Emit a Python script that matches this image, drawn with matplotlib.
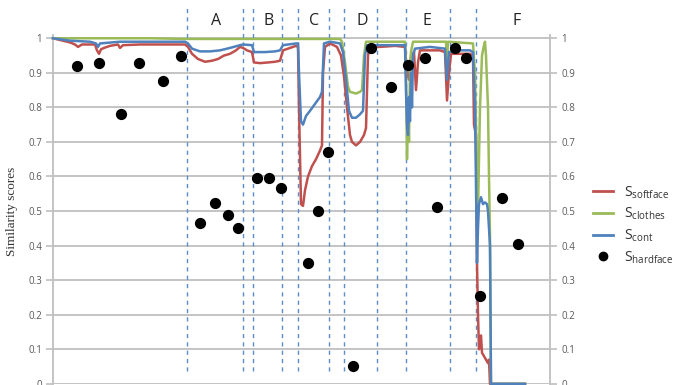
import matplotlib
matplotlib.use('Agg')
import matplotlib.pyplot as plt
from matplotlib.lines import Line2D

plt.rcParams['font.family'] = ['Open Sans', 'DejaVu Sans']

# frame index (arbitrary units, no x tick labels in the original)
soft_x = [53, 60, 70, 75, 78, 82, 95, 97, 99, 101, 104, 110, 118, 120, 123, 140, 160, 185,
          188, 192, 198, 205, 212, 218, 224, 230, 236, 240, 243, 247, 252, 254, 260, 268, 275,
          280, 283, 290, 296, 298, 299, 301, 303, 305, 308, 312, 316, 320, 322, 323, 325, 330,
          337, 341, 344, 347, 350, 352, 356, 360, 364, 366, 368, 370, 380, 395, 405, 407, 409,
          411, 414, 416, 418, 420, 430, 440, 445, 447, 449, 451, 460, 470, 473, 474, 476, 477,
          478, 479, 480, 481, 482, 484, 486, 488, 489, 490, 525]
soft_y = [1.0, 0.995, 0.988, 0.982, 0.975, 0.982, 0.982, 0.965, 0.955, 0.968, 0.972, 0.978,
          0.982, 0.972, 0.98, 0.982, 0.982, 0.982,
          0.975, 0.955, 0.94, 0.932, 0.935, 0.94, 0.95, 0.955, 0.965, 0.975, 0.972, 0.965, 0.96,
          0.93, 0.928, 0.93, 0.932,
          0.935, 0.965, 0.972, 0.978, 0.975, 0.8, 0.52, 0.515, 0.56, 0.6, 0.63, 0.65, 0.675,
          0.69, 0.9, 0.975, 0.985,
          0.975, 0.95, 0.89, 0.8, 0.72, 0.70, 0.69, 0.70, 0.72, 0.74, 0.95, 0.975, 0.975, 0.978,
          0.975, 0.9, 0.88,
          0.95, 0.96, 0.85, 0.93, 0.965, 0.965, 0.965, 0.96, 0.82, 0.9, 0.955, 0.955, 0.955,
          0.95, 0.75, 0.72, 0.35,
          0.2, 0.1, 0.12, 0.14, 0.09, 0.08, 0.07, 0.06, 0.07, 0.0, 0.0]

clothes_x = [53, 150, 185, 250, 340, 342, 345, 348, 350, 356, 360, 362, 364, 366, 400, 405,
             406, 407, 408, 409, 410, 411, 413, 440, 446, 447, 448, 473, 475, 477, 478, 480,
             482, 484, 485, 486, 488, 489, 490, 491, 525]
clothes_y = [1.0, 1.0, 0.998, 0.998, 0.998, 0.99, 0.93, 0.86, 0.845, 0.84, 0.845, 0.85, 0.95,
             0.99, 0.99, 0.99, 0.9, 0.65, 0.8, 0.7, 0.9, 0.96, 0.99, 0.99, 0.99, 0.93, 0.99,
             0.985, 0.9, 0.6, 0.5, 0.8, 0.95, 0.98, 0.99, 0.95, 0.8, 0.6, 0.43, 0.0, 0.0]

cont_x = [53, 70, 90, 96, 98, 100, 120, 150, 185, 188, 192, 200, 210, 220, 230, 240, 243, 252,
          254, 265, 275, 280, 283, 296, 298, 299, 301, 303, 306, 310, 315, 320, 322, 324, 330,
          340, 343, 346, 349, 352, 356, 360, 363, 365, 367, 380, 400, 405, 406, 407, 408, 409,
          410, 411, 412, 413, 415, 430, 445, 447, 449, 460, 470, 473, 475, 477, 478, 479, 481,
          483, 485, 487, 488, 490, 491, 525]
cont_y = [1.0, 0.993, 0.99, 0.985, 0.975, 0.985, 0.99, 0.99, 0.99, 0.985, 0.97, 0.962, 0.962,
          0.965, 0.972, 0.98, 0.982, 0.98,
          0.96, 0.96, 0.962, 0.965, 0.98, 0.985, 0.985, 0.9, 0.76, 0.75, 0.775, 0.79, 0.81,
          0.83, 0.845, 0.985, 0.99,
          0.985, 0.96, 0.88, 0.79, 0.77, 0.77, 0.78, 0.79, 0.95, 0.98, 0.98, 0.98, 0.98, 0.85,
          0.75, 0.72, 0.83,
          0.76, 0.9, 0.8, 0.95, 0.97, 0.975, 0.97, 0.88, 0.96, 0.965, 0.965, 0.96, 0.8, 0.35,
          0.45, 0.52, 0.54,
          0.52, 0.525, 0.52, 0.5, 0.4, 0.0, 0.0]

hard_x = [77, 99, 121, 139, 163, 181, 200, 215, 228, 238, 257, 269, 281, 308, 318, 328, 353,
          371, 391, 408, 425, 437, 455, 466, 480, 502, 518]
hard_y = [0.920, 0.928, 0.782, 0.928, 0.877, 0.949, 0.465, 0.523, 0.488, 0.451, 0.595, 0.595,
          0.566, 0.351, 0.5, 0.672, 0.051, 0.972, 0.859, 0.922, 0.943, 0.511, 0.972, 0.943,
          0.255, 0.539, 0.405]

boundaries = [187, 243, 253, 282, 298, 329, 344, 377, 406, 450, 476]
seg_labels = ['A', 'B', 'C', 'D', 'E', 'F']
seg_label_x = [216, 269, 314, 362, 427, 517]

RED = '#c0504d'
GREEN = '#9bbb59'
BLUE = '#4f81bd'
GRID = '#bfbfbf'
TICK = '#595959'

fig = plt.figure(figsize=(6.76, 3.85), dpi=100)
ax = fig.add_axes([0.0784, 0.003, 0.7352, 0.9066])

ax.plot(soft_x, soft_y, color=RED, lw=1.8, zorder=3, clip_on=False)
ax.plot(clothes_x, clothes_y, color=GREEN, lw=1.8, zorder=3, clip_on=False)
ax.plot(cont_x, cont_y, color=BLUE, lw=1.8, zorder=3, clip_on=False)
ax.scatter(hard_x, hard_y, s=50, color='black', zorder=4)

ax.vlines(boundaries, 0.037, 1.087, colors='#5b8ec9', linestyles=(0, (3, 3)), lw=1.0,
          clip_on=False, zorder=2)
for lab, lx in zip(seg_labels, seg_label_x):
    ax.text(lx, 1.05, lab, ha='center', va='center', fontsize=11.5, color='#222222',
            clip_on=False)

ax.set_xlim(53, 550)
ax.set_ylim(0, 1.01)
yt = [i / 10 for i in range(11)]
yl = ['0', '0.1', '0.2', '0.3', '0.4', '0.5', '0.6', '0.7', '0.8', '0.9', '1']
ax.set_yticks(yt)
ax.set_yticklabels(yl)
ax.grid(axis='y', color=GRID, lw=1.3)
ax.set_axisbelow(True)
ax.set_xticks([])
ax.tick_params(axis='y', which='both', left=True, right=True, labelleft=True,
               labelright=True, colors=GRID, labelcolor=TICK, labelsize=7, length=5,
               width=1.2, pad=3)
for s in ['top', 'bottom']:
    ax.spines[s].set_visible(False)
for s in ['left', 'right']:
    ax.spines[s].set_color(GRID)
    ax.spines[s].set_linewidth(1.3)

fig.text(0.018, 0.45, 'Similarity scores', rotation=90, ha='center', va='center',
         fontsize=9.5, family='Liberation Serif', color='#333333')

handles = [
    Line2D([], [], color=RED, lw=2),
    Line2D([], [], color=GREEN, lw=2),
    Line2D([], [], color=BLUE, lw=2),
    Line2D([], [], color='black', marker='o', ls='none', markersize=6),
]
labels = [r'$\mathregular{S_{softface}}$', r'$\mathregular{S_{clothes}}$',
          r'$\mathregular{S_{cont}}$', r'$\mathregular{S_{hardface}}$']
fig.legend(handles, labels, loc='upper left', bbox_to_anchor=(0.869, 0.536),
           frameon=False, fontsize=10, handlelength=1.45, handletextpad=0.75,
           labelspacing=0.38, labelcolor='#333333', borderaxespad=0)

fig.savefig('out.png', dpi=100)
